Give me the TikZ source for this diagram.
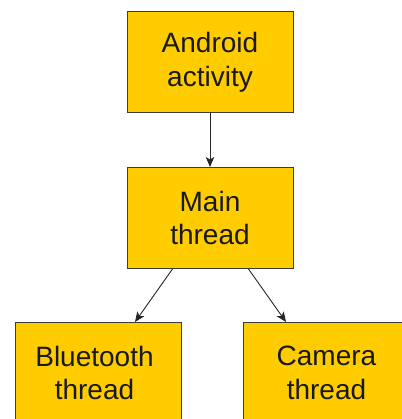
\documentclass[tikz,border=0pt]{standalone}
\usepackage{fontspec}
\setmainfont{Liberation Sans}
\usetikzlibrary{arrows.meta}
\definecolor{boxfill}{RGB}{255,204,0}
\definecolor{boxline}{RGB}{60,60,60}
\begin{document}
\begin{tikzpicture}[x=1pt,y=-1pt,
  box/.style={draw=boxline,line width=1pt,fill=boxfill,minimum width=166pt,minimum height=101pt,
    inner sep=0pt,align=center,font=\fontsize{28}{33.5}\selectfont,text=black!90},
  conn/.style={draw=black!85,line width=0.9pt,-{Stealth[length=10pt,width=8.5pt,inset=2.5pt]}}]
\useasboundingbox (0,0) rectangle (401,419);
\node[box] (android) at (210,62.5) {Android\\activity};
\node[box] (main) at (210,218) {Main\\thread};
\node[box,text depth=0pt] (bt) at (98.5,373) {\hspace*{-8pt}Bluetooth\\\hspace*{-8pt}thread};
\node[box] (cam) at (326.5,373) {Camera\\thread};
\draw[conn] (android.south) -- (main.north);
\draw[conn] ([xshift=46pt]main.south west) -- ([xshift=36.5pt]bt.north);
\draw[conn] ([xshift=-45pt]main.south east) -- ([xshift=-40.5pt]cam.north);
\end{tikzpicture}
\end{document}
